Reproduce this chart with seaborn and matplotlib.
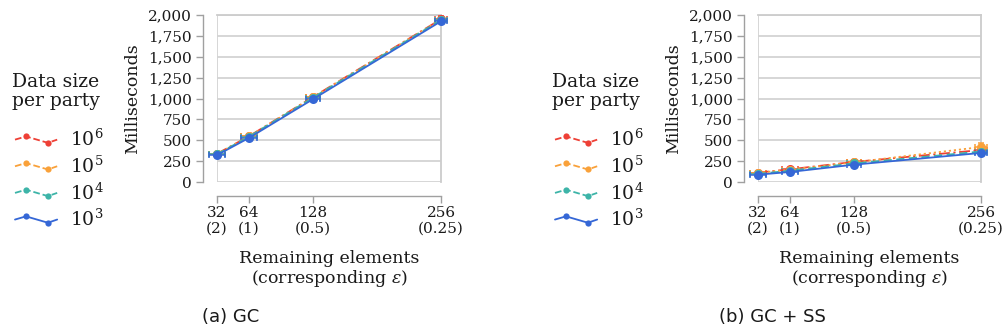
import numpy as np
import pandas as pd
import matplotlib
matplotlib.use("Agg")
import matplotlib.pyplot as plt
from matplotlib.lines import Line2D
from matplotlib.legend_handler import HandlerLine2D
import seaborn as sns

# ---------------- data ----------------
remaining = [32, 64, 128, 256]
tick_labels = ["32\n(2)", "64\n(1)", "128\n(0.5)", "256\n(0.25)"]
series = ["$10^6$", "$10^5$", "$10^4$", "$10^3$"]

gc_1e6 = [338, 548, 1018, 1950]
gc_1e5 = [335, 545, 1015, 1945]
gc_1e4 = [333, 543, 1010, 1940]
gc_1e3 = [322, 528, 992, 1925]
gc_err_1e6 = [20, 25, 25, 35]
gc_err_1e5 = [18, 22, 22, 30]
gc_err_1e4 = [15, 18, 20, 25]
gc_err_1e3 = [12, 15, 18, 20]

ss_1e6 = [112, 152, 240, 383]
ss_1e5 = [110, 148, 235, 419]
ss_1e4 = [97, 135, 222, 365]
ss_1e3 = [88, 120, 207, 348]
ss_err_1e6 = [15, 15, 18, 20]
ss_err_1e5 = [14, 14, 16, 52]
ss_err_1e4 = [12, 12, 14, 18]
ss_err_1e3 = [10, 10, 12, 15]

x_err = [8, 8, 7, 6]

captions = ["(a) GC", "(b) GC + SS"]
legend_title = "Data size\nper party"

colors = ["#EE4036", "#F9A13A", "#3DB4A8", "#3567D6"]
dash_styles = [(6, 2, 1.2, 2), (1.2, 1.6), (4.5, 2.5), ""]

# ---------------- style ----------------
sns.set_theme(style="white")
plt.rcParams["font.family"] = ["DejaVu Serif"]
plt.rcParams["mathtext.fontset"] = "dejavuserif"

fig = plt.figure(figsize=(10.08, 3.36), dpi=100)
W, H = 1008, 336
TXT = "#1a1a1a"


class ZigHandler(HandlerLine2D):
    def create_artists(self, legend, orig_handle, xdescent, ydescent,
                       width, height, fontsize, trans):
        xs = np.array([0.0, 0.26, 0.78, 1.0]) * width - xdescent
        ym = height / 2.0 - ydescent
        ys = ym + np.array([0.0, 2.3, -2.3, 0.0])
        ln = Line2D(xs, ys, color=orig_handle.get_color(),
                    linestyle=orig_handle.get_linestyle(),
                    linewidth=orig_handle.get_linewidth(),
                    marker="o", markersize=4.5, markeredgewidth=0,
                    markevery=[1, 2])
        ln.set_transform(trans)
        return [ln]


def panel(axrect, ys, errs, caption, cap_x, leg_x):
    ax = fig.add_axes(axrect)
    rows = []
    for name, yv in zip(series, ys):
        for xv, v in zip(remaining, yv):
            rows.append({"x": xv, "ms": v, "size": name})
    df = pd.DataFrame(rows)

    for name, yv, ev, c in zip(series, ys, errs, colors):
        ax.errorbar(remaining, yv, yerr=ev, xerr=x_err, fmt="none",
                    ecolor=c, elinewidth=1.1, capsize=2.5, capthick=1.1,
                    clip_on=False, zorder=3)

    sns.lineplot(data=df, x="x", y="ms", hue="size", style="size",
                 palette=dict(zip(series, colors)),
                 dashes=dict(zip(series, dash_styles)),
                 markers={s: "o" for s in series},
                 markersize=6.5, markeredgewidth=0, linewidth=1.3,
                 legend=False, ax=ax, clip_on=False, zorder=4,
                 hue_order=series)

    ax.set_xlim(32, 256)
    ax.set_ylim(0, 2000)
    ax.set_xticks(remaining)
    ax.set_xticklabels(tick_labels, fontsize=10.5, linespacing=1.55)
    yt = np.arange(0, 2001, 250)
    ax.set_yticks(yt)
    ax.set_yticklabels([f"{v:,}" for v in yt], fontsize=10.5)
    ax.grid(axis="y", color="#d3d3d3", linewidth=1.3)
    ax.axvline(32, color="#d3d3d3", linewidth=1.3, zorder=0)
    for s in ["top", "right"]:
        ax.spines[s].set_color("#cccccc")
        ax.spines[s].set_linewidth(1.3)
    for s in ["left", "bottom"]:
        ax.spines[s].set_position(("outward", 10))
        ax.spines[s].set_color("#a0a0a0")
        ax.spines[s].set_linewidth(1.0)
    ax.tick_params(axis="both", which="major", length=5, width=1.0,
                   color="#a0a0a0", direction="out",
                   left=True, bottom=True, labelcolor=TXT)
    ax.tick_params(axis="y", pad=3)
    ax.tick_params(axis="x", pad=2)
    ax.set_ylabel("Milliseconds", fontsize=12.5, labelpad=5, color=TXT)
    ax.set_xlabel("Remaining elements\n(corresponding $\\epsilon$)",
                  fontsize=12.5, labelpad=10, linespacing=1.1, color=TXT)

    handles = [Line2D([], [], color=c, linewidth=1.3,
                      linestyle=(0, d) if d else "-")
               for c, d in zip(colors, dash_styles)]
    fig.text(leg_x / W, 1 - 73 / H, legend_title, fontsize=13.5,
             ha="left", va="top", linespacing=1.05, color=TXT)
    fig.legend(handles, series, loc="upper left",
               bbox_to_anchor=((leg_x + 3) / W, 1 - 129 / H),
               frameon=False, fontsize=13.5, labelcolor=TXT,
               handlelength=2.25, handletextpad=0.7, labelspacing=0.29,
               borderpad=0, borderaxespad=0,
               handler_map={Line2D: ZigHandler()})
    fig.text(cap_x / W, 1 - 317 / H, caption, fontsize=13,
             family="DejaVu Sans", ha="center", va="center", color=TXT)
    return ax


ax1 = panel([217 / W, (H - 182) / H, 224 / W, 167 / H],
            [gc_1e6, gc_1e5, gc_1e4, gc_1e3],
            [gc_err_1e6, gc_err_1e5, gc_err_1e4, gc_err_1e3],
            captions[0], 231, 12)
ax2 = panel([758 / W, (H - 182) / H, 223 / W, 167 / H],
            [ss_1e6, ss_1e5, ss_1e4, ss_1e3],
            [ss_err_1e6, ss_err_1e5, ss_err_1e4, ss_err_1e3],
            captions[1], 772, 552)

fig.savefig("out.png", dpi=100)
